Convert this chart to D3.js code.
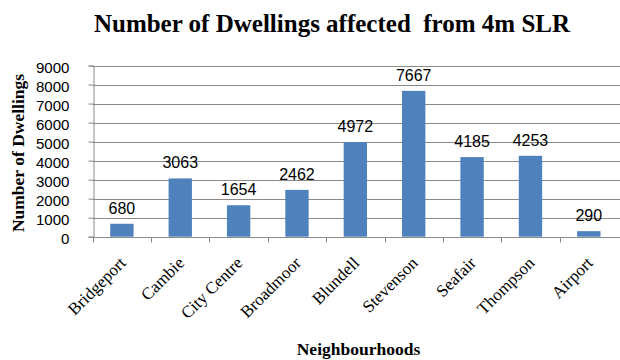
<!DOCTYPE html>
<html>
<head>
<meta charset="utf-8">
<script src="https://cdn.jsdelivr.net/npm/d3@7/dist/d3.min.js"></script>
<style>
  html, body { margin: 0; padding: 0; background: #ffffff; }
  svg { display: block; }
</style>
</head>
<body>
<svg id="chart" width="620" height="360"></svg>
<script>
const categories = ["Bridgeport", "Cambie", "City Centre", "Broadmoor", "Blundell", "Stevenson", "Seafair", "Thompson", "Airport"];
const dwellings = [680, 3063, 1654, 2462, 4972, 7667, 4185, 4253, 290];
const yTicks = [0, 1000, 2000, 3000, 4000, 5000, 6000, 7000, 8000, 9000];
const titleText = "Number of Dwellings affected  from 4m SLR";
const yTitle = "Number of Dwellings";
const xTitle = "Neighbourhoods";

const svg = d3.select("#chart");
const plotLeft = 92.7, plotRight = 618, plotTop = 65.5, plotBottom = 236.7;
const serif = "'Liberation Serif', 'Times New Roman', serif";
const sans = "'Liberation Sans', Arial, sans-serif";

const x = d3.scaleBand().domain(categories).range([plotLeft, plotRight]).paddingInner(0.6).paddingOuter(0.3);
const step = (plotRight - plotLeft) / categories.length;
const y = d3.scaleLinear().domain([0, 9000]).range([plotBottom, plotTop]);

// gridlines
svg.append("g").selectAll("line").data(yTicks.filter(d => d > 0)).join("line")
  .attr("x1", plotLeft).attr("x2", 620)
  .attr("y1", d => Math.round(y(d)) + 0.5).attr("y2", d => Math.round(y(d)) + 0.5)
  .attr("stroke", "#8a8a8a").attr("stroke-width", 1);

// y axis
const yAxis = svg.append("g").attr("transform", `translate(${Math.round(plotLeft) + 0.5},0)`)
  .call(d3.axisLeft(y).tickValues(yTicks).tickSize(5).tickPadding(19).tickFormat(d3.format("d")));
yAxis.select(".domain").attr("stroke", "#8a8a8a");
yAxis.selectAll(".tick line").attr("stroke", "#8a8a8a");
yAxis.selectAll(".tick text").attr("font-family", sans).attr("font-size", 14).attr("fill", "#000")
  .attr("dy", "0.5em").attr("textLength", d => String(d).length * 8.4).attr("lengthAdjust", "spacingAndGlyphs");

// x axis baseline + boundary ticks
const boundaries = d3.range(categories.length + 1).map(i => plotLeft + i * step);
svg.append("line").attr("x1", plotLeft).attr("x2", 620)
  .attr("y1", Math.round(plotBottom) + 0.5).attr("y2", Math.round(plotBottom) + 0.5)
  .attr("stroke", "#8a8a8a");
svg.append("g").selectAll("line").data(boundaries.slice(0, categories.length)).join("line")
  .attr("x1", d => Math.round(d) + 0.5).attr("x2", d => Math.round(d) + 0.5)
  .attr("y1", Math.round(plotBottom)).attr("y2", Math.round(plotBottom) + 5.5)
  .attr("stroke", "#8a8a8a");

// bars
svg.append("g").selectAll("rect").data(categories).join("rect")
  .attr("x", d => x(d)).attr("width", x.bandwidth())
  .attr("y", (d, i) => y(dwellings[i])).attr("height", (d, i) => y(0) - y(dwellings[i]))
  .attr("fill", "#4f81bd");

// value labels
svg.append("g").selectAll("text").data(categories).join("text")
  .attr("x", d => x(d) + x.bandwidth() / 2)
  .attr("y", (d, i) => y(dwellings[i]) - 10)
  .attr("text-anchor", "middle")
  .attr("font-family", sans).attr("font-size", 16).attr("fill", "#000")
  .text((d, i) => dwellings[i]);

// category labels
svg.append("g").selectAll("text").data(categories).join("text")
  .attr("transform", d => `translate(${x(d) + x.bandwidth() / 2 + 5},264) rotate(-45)`)
  .attr("text-anchor", "end")
  .attr("font-family", serif).attr("font-size", 17).attr("fill", "#000")
  .text(d => d);

// titles
svg.append("text").attr("x", 332).attr("y", 31.5).attr("text-anchor", "middle")
  .attr("font-family", serif).attr("font-weight", "bold").attr("font-size", 25)
  .style("white-space", "pre").attr("fill", "#000").text(titleText);

svg.append("text").attr("transform", "translate(23.5,153) rotate(-90)").attr("text-anchor", "middle")
  .attr("font-family", serif).attr("font-weight", "bold").attr("font-size", 17.5)
  .attr("fill", "#000").text(yTitle);

svg.append("text").attr("x", 358.5).attr("y", 355).attr("text-anchor", "middle")
  .attr("font-family", serif).attr("font-weight", "bold").attr("font-size", 17.5)
  .attr("fill", "#000").text(xTitle);
</script>
</body>
</html>
